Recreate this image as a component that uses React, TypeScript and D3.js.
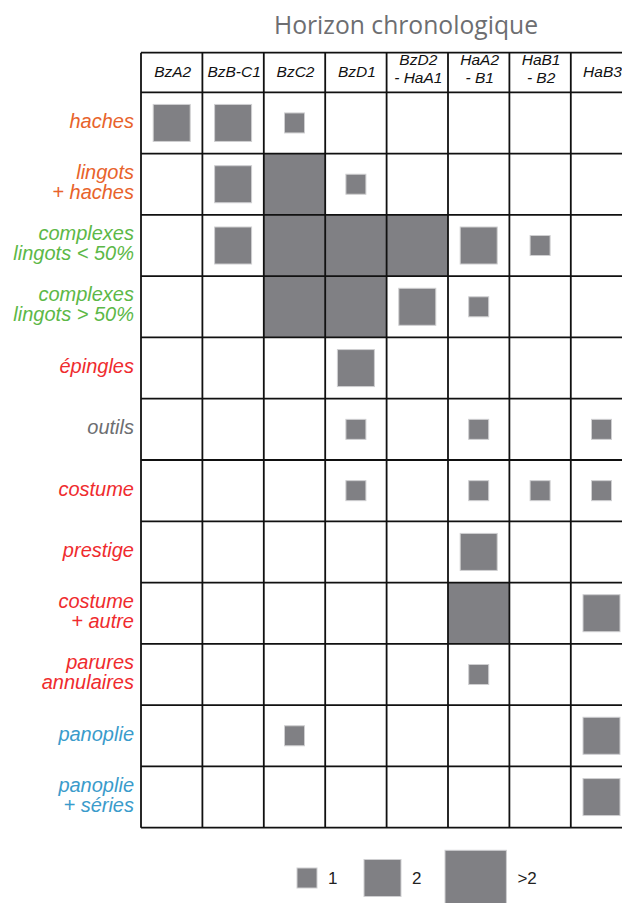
import React from 'react';
import * as d3 from 'd3';

// colonnes (horizons chronologiques), libellés sur une ou deux lignes
const periods = ['BzA2', 'BzB-C1', 'BzC2', 'BzD1', 'BzD2|- HaA1', 'HaA2|- B1', 'HaB1|- B2', 'HaB3'];

// catégories de dépôts (lignes) et leur groupe de couleur
const categories = [
  'haches', 'lingots|+ haches', 'complexes|lingots < 50%', 'complexes|lingots > 50%',
  'épingles', 'outils', 'costume', 'prestige', 'costume|+ autre', 'parures|annulaires',
  'panoplie', 'panoplie|+ séries',
];
const categoryGroups = ['haches', 'haches', 'complexes', 'complexes', 'parure', 'outils',
  'parure', 'parure', 'parure', 'parure', 'armes', 'armes'];

// nombre de dépôts par case (3 = ">2")
const counts = [
  [2, 2, 1, 0, 0, 0, 0, 0],
  [0, 2, 3, 1, 0, 0, 0, 0],
  [0, 2, 3, 3, 3, 2, 1, 0],
  [0, 0, 3, 3, 2, 1, 0, 0],
  [0, 0, 0, 2, 0, 0, 0, 0],
  [0, 0, 0, 1, 0, 1, 0, 1],
  [0, 0, 0, 1, 0, 1, 1, 1],
  [0, 0, 0, 0, 0, 2, 0, 0],
  [0, 0, 0, 0, 0, 3, 0, 2],
  [0, 0, 0, 0, 0, 1, 0, 0],
  [0, 0, 1, 0, 0, 0, 0, 2],
  [0, 0, 0, 0, 0, 0, 0, 2],
];

const legendValues = [1, 2, 3];
const legendLabels = ['1', '2', '>2'];

const W = 622;
const H = 903;
const FILL = '#808084';
const FONT = "'Liberation Sans', Arial, sans-serif";

const App = () => {
  const x = d3.scaleBand<string>().domain(periods).range([141, 141 + 8 * 61.4]);
  const y = d3.scaleBand<string>().domain(categories).range([92.3, 827.7]);
  const cell = x.bandwidth();
  const size = d3.scaleOrdinal<number, number>().domain([1, 2, 3]).range([20, 37, cell]);
  const color = d3.scaleOrdinal<string, string>()
    .domain(['haches', 'complexes', 'parure', 'outils', 'armes'])
    .range(['#e8632b', '#5cb847', '#ef2b2e', '#6d6e71', '#3a9bcb']);

  const headTop = 52.7;
  const gridLeft = x.range()[0];
  const gridRight = x.range()[1];
  const gridBottom = y.range()[1];

  const marks: { r: number; c: number; v: number }[] = [];
  counts.forEach((row, r) => row.forEach((v, c) => { if (v > 0) marks.push({ r, c, v }); }));

  const vLines = [...periods.map(p => x(p)!), gridRight];
  const hLines = [headTop, ...categories.map(c => y(c)!), gridBottom];

  // légende
  const legX = [297, 364, 445];
  const legMid = 878;

  return (
    <svg width={W} height={H} style={{ position: 'absolute', left: 0, top: 0, background: '#fff' }}>
      <text x={406} y={34} textAnchor="middle" fontFamily="'Open Sans', 'Noto Sans', sans-serif"
        fontSize={24.7} fill="#6d6e71">Horizon chronologique</text>

      {marks.map(({ r, c, v }) => {
        const s = size(v);
        const cx = x(periods[c])! + cell / 2;
        const cy = y(categories[r])! + y.bandwidth() / 2;
        return (
          <rect key={`${r}-${c}`} x={cx - s / 2} y={cy - s / 2} width={s} height={s}
            fill={FILL} stroke={v === 3 ? 'none' : '#cfcfd1'} strokeWidth={1} />
        );
      })}

      <g stroke="#111" strokeWidth={1.8}>
        {vLines.map((vx, i) => <line key={'v' + i} x1={vx} x2={vx} y1={headTop} y2={gridBottom} />)}
        {hLines.map((hy, i) => <line key={'h' + i} x1={gridLeft} x2={gridRight} y1={hy} y2={hy} />)}
      </g>

      <g fontFamily={FONT} fontStyle="italic" fontSize={15.5} fill="#111" textAnchor="middle">
        {periods.map(p => {
          const parts = p.split('|');
          const cx = x(p)! + cell / 2 + 1;
          return parts.length === 1
            ? <text key={p} x={cx} y={77}>{parts[0]}</text>
            : (
              <text key={p} x={cx}>
                <tspan x={cx} y={64.5}>{parts[0]}</tspan>
                <tspan x={cx} y={83}>{parts[1]}</tspan>
              </text>
            );
        })}
      </g>

      <g fontFamily={FONT} fontStyle="italic" fontSize={20} textAnchor="end">
        {categories.map((c, i) => {
          const parts = c.split('|');
          const cy = y(c)! + y.bandwidth() / 2;
          const fill = color(categoryGroups[i]);
          return parts.length === 1
            ? <text key={c} x={134} y={cy + 5} fill={fill}>{parts[0]}</text>
            : (
              <text key={c} fill={fill}>
                <tspan x={134} y={cy - 5.5}>{parts[0]}</tspan>
                <tspan x={134} y={cy + 14.5}>{parts[1]}</tspan>
              </text>
            );
        })}
      </g>

      <g>
        {legendValues.map((v, i) => {
          const s = size(v);
          return (
            <g key={v}>
              <rect x={legX[i]} y={legMid - s / 2 + (v === 3 ? 3 : 0)} width={s} height={s}
                fill={FILL} stroke="#cfcfd1" strokeWidth={1} />
              <text x={legX[i] + s + 11} y={legMid + 6} fontFamily={FONT}
                fontSize={17} fill="#222">{legendLabels[i]}</text>
            </g>
          );
        })}
      </g>
    </svg>
  );
};

export default App;
